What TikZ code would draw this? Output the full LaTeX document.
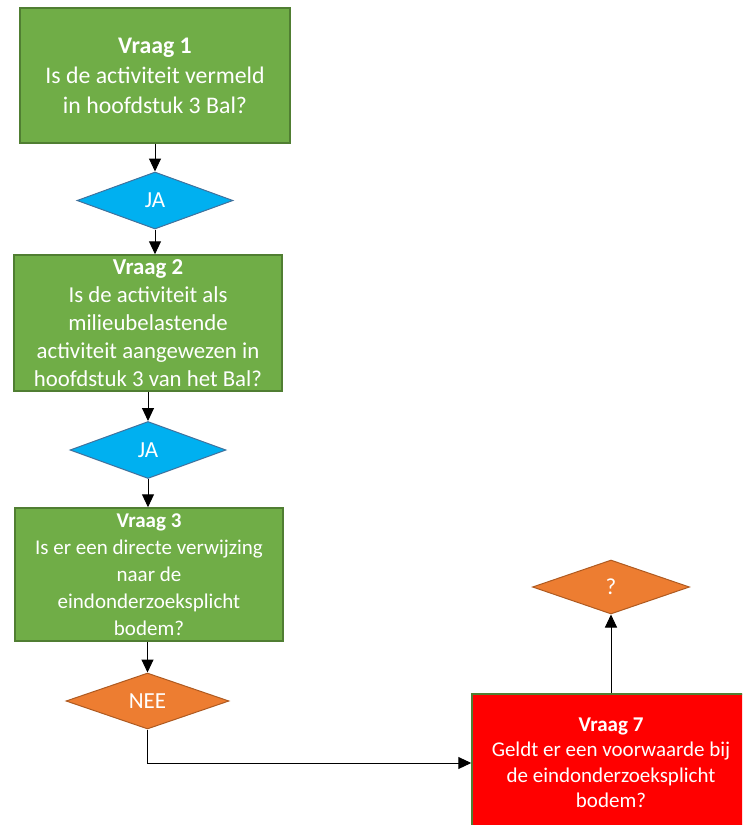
\documentclass[tikz,border=0pt]{standalone}
\usepackage{fontspec}
\setmainfont{Carlito}
\usetikzlibrary{shapes.geometric,arrows.meta}
\definecolor{qgreen}{HTML}{70AD47}
\definecolor{qgreenline}{HTML}{507E32}
\definecolor{qblue}{HTML}{00B0F0}
\definecolor{qblueline}{HTML}{41719C}
\definecolor{qorange}{HTML}{ED7D31}
\definecolor{qorangeline}{HTML}{AE5A21}
\definecolor{qred}{HTML}{FF0000}
\tikzset{
  qbox/.style={rectangle, fill=qgreen, draw=qgreenline, line width=1.5pt, text=white,
    align=center, inner sep=0pt},
  qredbox/.style={qbox, fill=qred},
  yesdia/.style={diamond, fill=qblue, draw=qblueline, line width=1pt, text=white,
    inner sep=0pt, minimum width=156pt, minimum height=57pt, font=\fontsize{23}{26}\selectfont},
  nodia/.style={yesdia, fill=qorange, draw=qorangeline},
  flow/.style={draw=black, line width=1pt, -{Triangle[length=13pt,width=12pt]}},
}
\begin{document}
\begin{tikzpicture}[x=1pt,y=-1pt]
\useasboundingbox (0,0) rectangle (742,825);
\clip (0,0) rectangle (742,825);
\node[qbox, minimum width=270pt, minimum height=135pt, font=\fontsize{23.8}{30}\selectfont] (v1) at (155,75.5)
  {\textbf{Vraag 1}\\Is de activiteit vermeld\\in hoofdstuk 3 Bal?};
\node[yesdia] (ja1) at (155,200.5) {JA};
\node[qbox, minimum width=268pt, minimum height=136pt, font=\fontsize{22.8}{28}\selectfont] (v2) at (148,323)
  {\textbf{Vraag 2}\\Is de activiteit als\\milieubelastende\\activiteit aangewezen in\\hoofdstuk 3 van het Bal?};
\node[yesdia] (ja2) at (148,450) {JA};
\node[qbox, minimum width=268pt, minimum height=133pt, font=\fontsize{21}{27}\selectfont] (v3) at (149,574.5)
  {\textbf{Vraag 3}\\Is er een directe verwijzing\\naar de\\eindonderzoeksplicht\\bodem?};
\node[nodia, minimum width=163pt, minimum height=56pt] (nee) at (147.5,701) {NEE};
\node[qredbox, minimum width=278pt, minimum height=138pt, font=\fontsize{21}{25.5}\selectfont] (v7) at (611,763)
  {\textbf{Vraag 7}\\Geldt er een voorwaarde bij\\de eindonderzoeksplicht\\bodem?};
\node[nodia, minimum width=157pt, minimum height=54pt] (q) at (611,587) {?};
\draw[flow] (v1.south) -- (ja1.north);
\draw[flow] (ja1.south) -- (ja1.south |- v2.north);
\draw[flow] (v2.south) -- (ja2.north);
\draw[flow] (ja2.south) -- (ja2.south |- v3.north);
\draw[flow] (nee.north |- v3.south) -- (nee.north);
\draw[flow] (nee.south) |- (v7.west);
\draw[flow] (v7.north) -- (q.south);
\end{tikzpicture}
\end{document}
